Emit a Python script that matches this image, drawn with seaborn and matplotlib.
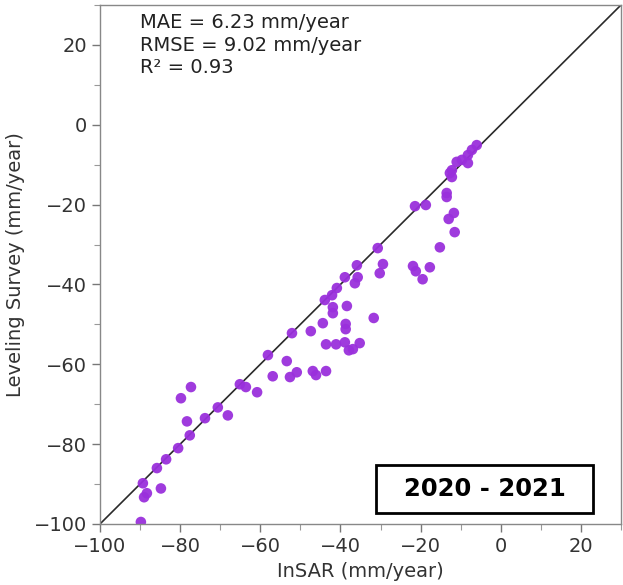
import matplotlib
matplotlib.use("Agg")
import matplotlib.pyplot as plt
from matplotlib.ticker import MultipleLocator
from matplotlib.patches import Rectangle
import seaborn as sns
import pandas as pd

# Vertical velocities (mm/year): InSAR estimate vs. leveling benchmark
insar = [
    -89.8, -89.3, -84.8, -89.0, -88.3, -85.8, -83.5, -80.5, -77.6, -78.3,
    -79.8, -77.3, -73.8, -70.6, -68.1, -65.1, -63.6, -60.8, -58.1, -56.9,
    -53.4, -52.1, -52.6, -50.9, -47.4, -46.9, -46.1, -43.6, -44.4, -43.6,
    -41.1, -38.9, -37.9, -36.9, -35.2, -38.7, -38.7, -41.9, -41.9, -38.4,
    -31.7, -43.9, -42.1, -40.9, -38.9, -36.4, -35.7, -35.9, -30.7, -29.4,
    -30.2, -21.9, -21.2, -17.7, -19.5, -15.2, -21.4, -18.7, -13.5, -13.5,
    -11.7, -13.0, -11.5, -12.2, -12.2, -12.7, -11.0, -8.2, -8.2, -7.2,
    -6.0, -9.7,
]
leveling = [
    -99.5, -89.8, -91.1, -93.3, -92.3, -86.0, -83.8, -81.0, -77.8, -74.3,
    -68.5, -65.7, -73.5, -70.8, -72.8, -65.0, -65.7, -67.0, -57.7, -63.0,
    -59.2, -52.2, -63.2, -62.0, -51.7, -61.7, -62.7, -61.7, -49.7, -55.0,
    -55.0, -54.5, -56.5, -56.2, -54.7, -49.9, -51.2, -45.7, -47.2, -45.4,
    -48.4, -43.9, -42.7, -40.9, -38.2, -39.7, -38.2, -35.2, -30.9, -34.9,
    -37.2, -35.4, -36.7, -35.7, -38.7, -30.7, -20.4, -20.1, -17.1, -18.1,
    -22.1, -23.6, -26.9, -13.1, -11.4, -12.1, -9.3, -9.6, -7.6, -6.3,
    -5.1, -8.8,
]

stats_lines = ["MAE = 6.23 mm/year", "RMSE = 9.02 mm/year", "R² = 0.93"]
period_label = "2020 - 2021"
axis_limits = [-100, 30]

df = pd.DataFrame({"InSAR": insar, "Leveling": leveling})

sns.set_style("white")
plt.rcParams["font.family"] = ["DejaVu Sans"]

fig = plt.figure(figsize=(6.23, 5.85), dpi=100)
ax = fig.add_axes([0.1605, 0.1043, 0.8363, 0.8872])

# 1:1 reference line
ax.plot(axis_limits, axis_limits, color="#2a2a2a", lw=1.2, zorder=1)

sns.scatterplot(data=df, x="InSAR", y="Leveling", ax=ax, color="#9a30dc",
                s=58, edgecolor="none", alpha=0.95, zorder=2, legend=False)

ax.set_xlim(axis_limits)
ax.set_ylim(axis_limits)
ax.xaxis.set_major_locator(MultipleLocator(20))
ax.yaxis.set_major_locator(MultipleLocator(20))
ax.xaxis.set_minor_locator(MultipleLocator(10))
ax.yaxis.set_minor_locator(MultipleLocator(10))
ax.tick_params(which="major", direction="out", length=6, width=1,
               color="#777777", labelsize=14, labelcolor="#333333",
               bottom=True, left=True)
ax.tick_params(which="minor", direction="out", length=4, width=0.8,
               color="#999999", bottom=True, left=True)
for sp in ax.spines.values():
    sp.set_color("#888888")
    sp.set_linewidth(1.0)

ax.set_xlabel("InSAR (mm/year)", fontsize=14, color="#333333", labelpad=4)
ax.set_ylabel("Leveling Survey (mm/year)", fontsize=14, color="#333333",
              labelpad=6)

ax.text(0.077, 0.985, "\n".join(stats_lines), transform=ax.transAxes,
        fontsize=14, color="#222222", va="top", ha="left", linespacing=1.25)

ax.add_patch(Rectangle((0.530, 0.021), 0.416, 0.093, transform=ax.transAxes,
                       facecolor="white", edgecolor="black", lw=2, zorder=5))
ax.text(0.738, 0.0675, period_label, transform=ax.transAxes, fontsize=17.5,
        fontweight="bold", ha="center", va="center", color="black", zorder=6)

fig.savefig("out.png", dpi=100)
